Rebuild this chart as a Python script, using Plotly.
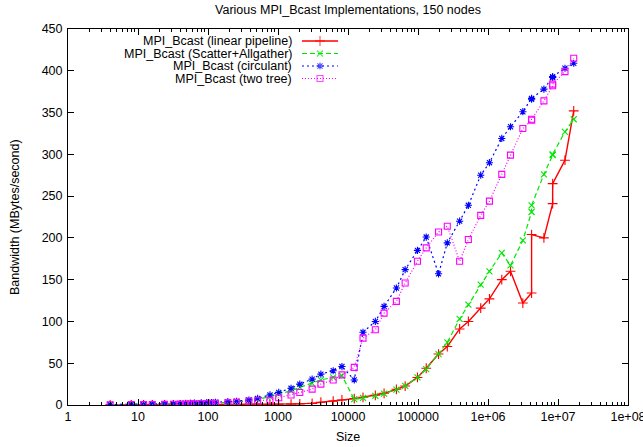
import plotly.graph_objects as go

# ---------------- data ----------------
sizes = [4, 8, 12, 16, 24, 32, 40, 48, 56, 64,
         80, 96, 112, 128, 192, 256, 384, 512, 768, 1024,
         1536, 2048, 3072, 4096, 6144, 8192, 12288, 16384, 24576, 32768,
         49152, 65536, 98304, 131072, 196608, 262144, 393216, 524288, 786432, 1048576,
         1572864, 2097152, 3145728, 4194304, 4194304, 6291456, 8388608, 8388608, 12582912, 16777216]

linear_pipeline = [0.1, 0.1, 0.1, 0.15, 0.2, 0.2, 0.25, 0.3, 0.3, 0.3,
                   0.35, 0.4, 0.4, 0.45, 0.5, 0.6, 0.7, 0.8, 0.9, 1.0,
                   1.1, 1.3, 2.0, 3.3, 4.6, 6.0, 7.6, 9.2, 11.6, 14,
                   18.8, 22.7, 33, 44, 61, 70, 91, 100, 116, 127,
                   150, 160, 122, 134, 204, 200, 241, 265, 293, 352]

scatter_allgather = [0.5, 0.6, 0.7, 0.8, 1.0, 1.2, 1.3, 1.5, 1.6, 1.8,
                     2.0, 2.2, 2.4, 2.6, 3.2, 4, 5.5, 7, 10, 13,
                     17, 21, 26, 30, 33, 35, 7, 8.5, 11, 13.5,
                     18.5, 23, 33, 43, 61, 75, 103, 120, 144, 160,
                     182, 167, 197, 231, 239, 276, 299, 300, 327, 342]

circulant = [0.5, 0.7, 0.8, 1.0, 1.2, 1.4, 1.6, 1.8, 2.0, 2.2,
             2.5, 2.8, 3.0, 3.3, 4.0, 4.5, 6, 8, 12, 15,
             20, 25, 31, 37, 41, 46, 30, 87, 100, 118,
             140, 162, 185, 201, 157, 194, 220, 239, 275, 290,
             319, 333, 351, 366, 367, 378, 392, 393, 403, 409]

two_tree = [0.3, 0.4, 0.5, 0.6, 0.8, 0.9, 1.0, 1.1, 1.2, 1.3,
            1.5, 1.7, 1.9, 2.0, 2.6, 3.2, 4.8, 5, 6, 8.7,
            12, 15, 19, 25, 30, 36, 45, 80, 90, 110,
            124, 146, 172, 188, 207, 214, 172, 198, 227, 244,
            276, 299, 331, 341, 342, 364, 382, 384, 399, 415]

series_names = ["MPI_Bcast (linear pipeline)",
                "MPI_Bcast (Scatter+Allgather)",
                "MPI_Bcast (circulant)",
                "MPI_Bcast (two tree)"]

x_tickvals = [1, 10, 100, 1000, 10000, 100000, 1e6, 1e7, 1e8]
x_ticktext = ["1", "10", "100", "1000", "10000", "100000", "1e+06", "1e+07", "1e+08"]
y_tickvals = [0, 50, 100, 150, 200, 250, 300, 350, 400, 450]

title_text = "Various MPI_Bcast Implementations, 150 nodes"
x_title = "Size"
y_title = "Bandwidth (MBytes/second)"

# ---------------- styles ----------------
FONT = "Liberation Sans, Arial, Helvetica, sans-serif"
FS = 12.5
styles = [
    dict(color="#ff0000", dash="solid", symbol="cross-thin-open", size=7, width=1.4),
    dict(color="#00e600", dash="5px,3px", symbol="x-thin-open", size=6, width=1.2),
    dict(color="#0000ff", dash="2px,3px", symbol="asterisk-open", size=6, width=1.2),
    dict(color="#ff00ff", dash="1px,2px", symbol="square-open", size=6, width=1.2),
]
all_series = [linear_pipeline, scatter_allgather, circulant, two_tree]

# page geometry (body margin removed by post_script)
W, H = 643, 447
PL, PR, PT, PB = 68, 628, 29, 405          # plot area in page pixels
L, T, R, B = PL, PT, W - PR, H - PB
PW, PH = PR - PL, PB - PT

fig = go.Figure()

for vals, name, st in zip(all_series, series_names, styles):
    fig.add_trace(go.Scatter(
        x=sizes, y=vals, name=name, mode="lines+markers",
        line=dict(color=st["color"], width=st["width"], dash=st["dash"]),
        marker=dict(symbol=st["symbol"], size=st["size"], color=st["color"],
                    line=dict(color=st["color"], width=1.1)),
        showlegend=False, xaxis="x", yaxis="y",
    ))

# custom gnuplot-like legend (text right, sample to the right) on a pixel overlay axis
legend_rows = [41, 53.5, 66, 78.5]
text_right = 294
samp_x0, samp_xm, samp_x1 = 302, 320, 338
for row, name, st in zip(legend_rows, series_names, styles):
    fig.add_trace(go.Scatter(
        x=[samp_x0, samp_xm, samp_x1], y=[row, row, row], mode="lines+markers",
        line=dict(color=st["color"], width=st["width"], dash=st["dash"]),
        marker=dict(symbol=st["symbol"], size=[0, st["size"], 0], color=st["color"],
                    line=dict(color=st["color"], width=1.1)),
        showlegend=False, xaxis="x2", yaxis="y2", hoverinfo="skip",
    ))
    fig.add_annotation(x=text_right, y=row, xref="x2", yref="y2", text=name,
                       showarrow=False, xanchor="right", yanchor="middle",
                       font=dict(family=FONT, size=FS, color="black"))

# axis titles
fig.add_annotation(x=(15 - PL) / PW, y=(PB - 217) / PH, xref="paper", yref="paper",
                   text=y_title, textangle=-90, showarrow=False,
                   xanchor="center", yanchor="middle",
                   font=dict(family=FONT, size=FS, color="black"))
fig.add_annotation(x=(348 - PL) / PW, y=-(437 - PB) / PH, xref="paper", yref="paper",
                   text=x_title, showarrow=False, xanchor="center", yanchor="middle",
                   font=dict(family=FONT, size=FS, color="black"))

axis_common = dict(showline=True, linecolor="black", linewidth=1, mirror="ticks",
                   ticks="inside", tickcolor="black", showgrid=False, zeroline=False,
                   tickfont=dict(family=FONT, size=FS, color="black"),
                   ticklabeloverflow="allow")

fig.update_layout(
    width=W, height=H,
    margin=dict(l=L, r=R, t=T, b=B, autoexpand=False),
    paper_bgcolor="white", plot_bgcolor="white",
    font=dict(family=FONT, size=FS, color="black"),
    title=dict(text=title_text, x=348 / W, xanchor="center",
               y=1 - 10 / H, yanchor="middle",
               font=dict(family=FONT, size=FS, color="black")),
    xaxis=dict(type="log", range=[0, 8], tickvals=x_tickvals, ticktext=x_ticktext,
               ticklen=6, minor=dict(ticks="inside", ticklen=3, dtick="D1",
                                     tickcolor="black", showgrid=False),
               **axis_common),
    yaxis=dict(range=[0, 450], tickvals=y_tickvals, ticklen=6,
               ticklabelstandoff=2, **axis_common),
    xaxis2=dict(overlaying="x", range=[PL, PR], visible=False, fixedrange=True),
    yaxis2=dict(overlaying="y", range=[PB, PT], visible=False, fixedrange=True),
    showlegend=False,
)

fig.write_html("out.html",
               config={"displayModeBar": False, "staticPlot": True},
               post_script="document.body.style.margin='0';document.body.style.overflow='hidden';")
